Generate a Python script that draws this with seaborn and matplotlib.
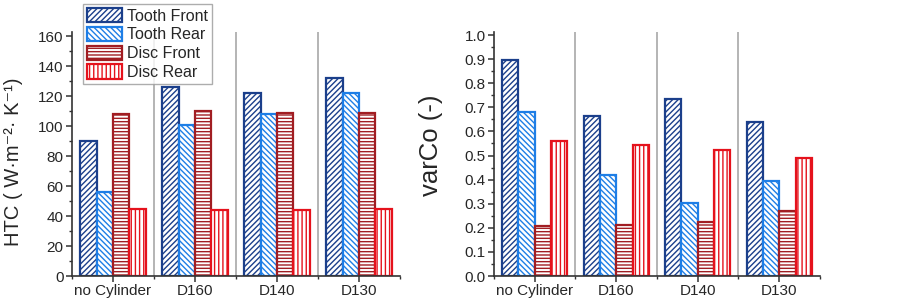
import pandas as pd
import seaborn as sns
import matplotlib.pyplot as plt
from matplotlib.patches import Patch
from matplotlib.ticker import MultipleLocator

sns.set_style("ticks")
plt.rcParams['font.family'] = ['Liberation Sans', 'DejaVu Sans']
plt.rcParams['hatch.linewidth'] = 1.0

cases = ["no Cylinder", "D160", "D140", "D130"]
series = ["Tooth Front", "Tooth Rear", "Disc Front", "Disc Rear"]

htc_tooth_front = [90, 126, 122, 132]
htc_tooth_rear = [56, 101, 108, 122]
htc_disc_front = [108, 110, 109, 109]
htc_disc_rear = [45, 44, 44, 45]

var_tooth_front = [0.895, 0.665, 0.735, 0.638]
var_tooth_rear = [0.68, 0.418, 0.303, 0.393]
var_disc_front = [0.207, 0.213, 0.225, 0.27]
var_disc_rear = [0.561, 0.542, 0.522, 0.49]

colors = ["#1b3f8b", "#1e7ee6", "#a11d22", "#e5121c"]
hatches = ["//////", "\\\\\\\\\\\\", "-----", "||||"]


def long_table(values):
    rows = []
    for s, vals in zip(series, values):
        for c, v in zip(cases, vals):
            rows.append({"case": c, "series": s, "value": v})
    return pd.DataFrame(rows)


htc = long_table([htc_tooth_front, htc_tooth_rear, htc_disc_front, htc_disc_rear])
var = long_table([var_tooth_front, var_tooth_rear, var_disc_front, var_disc_rear])

fig = plt.figure(figsize=(9.03, 3.03), dpi=100)
ax1 = fig.add_axes([72 / 903, 27 / 303, 328 / 903, 244 / 303])
ax2 = fig.add_axes([494 / 903, 27 / 303, 326 / 903, 244 / 303])


def draw(ax, df, ymax, major, minor):
    sns.barplot(data=df, x="case", y="value", hue="series", hue_order=series,
                palette=colors, ax=ax, width=0.8, gap=0, legend=False,
                linewidth=1.6)
    for bars, c, h in zip(ax.containers, colors, hatches):
        for b in bars:
            b.set_facecolor("white")
            b.set_edgecolor(c)
            b.set_hatch(h)
    for x in [0.5, 1.5, 2.5]:
        ax.axvline(x, color="#a8a8a8", lw=1.2, zorder=0)
    ax.set_xlim(-0.5, 3.5)
    ax.set_ylim(0, ymax)
    ax.yaxis.set_major_locator(MultipleLocator(major))
    ax.yaxis.set_minor_locator(MultipleLocator(minor))
    ax.xaxis.set_minor_locator(MultipleLocator(0.5))
    ax.set_xlabel("")
    ax.tick_params(axis="both", which="major", labelsize=11, length=4,
                   width=1.1, color="#333333", pad=2)
    ax.tick_params(axis="both", which="minor", length=2.5, width=1.0,
                   color="#333333")
    for s in ["left", "bottom"]:
        ax.spines[s].set_linewidth(1.2)
        ax.spines[s].set_color("#333333")
    sns.despine(ax=ax)


draw(ax1, htc, 163, 20, 10)
draw(ax2, var, 1.0125, 0.1, 0.05)
ax2.yaxis.set_major_formatter(plt.FormatStrFormatter("%.1f"))

ax1.set_ylabel("HTC ( W·m⁻²· K⁻¹)", fontsize=14.5)
ax1.yaxis.set_label_coords(-0.148, 0.467)
ax2.set_ylabel("varCo (-)", fontsize=18.5)
ax2.yaxis.set_label_coords(-0.156, 0.537)

handles = [Patch(facecolor="white", edgecolor=c, hatch=h, linewidth=1.6)
           for c, h in zip(colors, hatches)]
fig.legend(handles, series, loc="upper left", bbox_to_anchor=(83 / 903, 1 - 4 / 303),
           fontsize=11.5, frameon=True, fancybox=False, edgecolor="#999999",
           borderpad=0.25, labelspacing=0.2, handlelength=2.2, handleheight=1.0,
           handletextpad=0.3, borderaxespad=0)

fig.savefig("out.png", dpi=100)
